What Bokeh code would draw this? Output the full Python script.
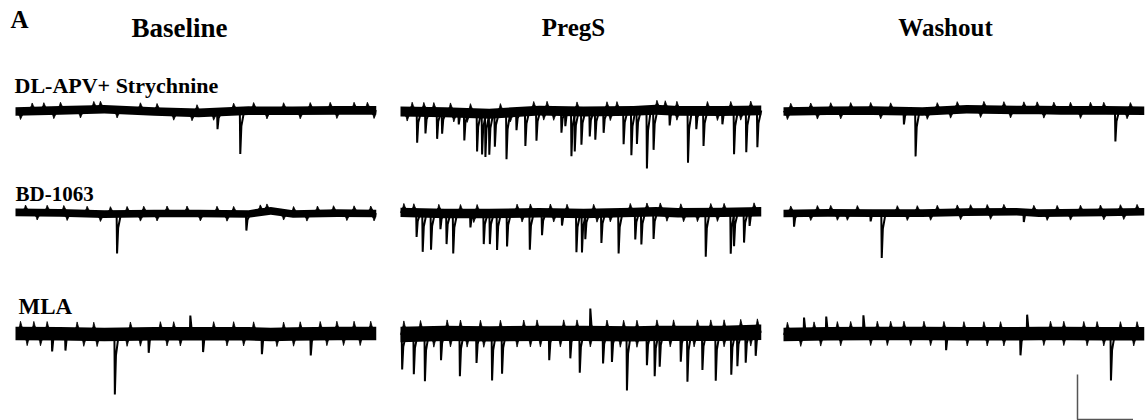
import numpy as np
from bokeh.plotting import figure
from bokeh.models import Range1d
from bokeh.embed import file_html
from bokeh.resources import INLINE
from bokeh.core.properties import value

# ---------------- data ----------------
COLUMNS = ["Baseline", "PregS", "Washout"]
ROWS = ["DL-APV+ Strychnine", "BD-1063", "MLA"]
PANEL_LABEL = "A"

TRACE_S = 65.0          # duration of every sweep, s
SCALE_PA = 20           # scale bar, pA
SCALE_S = 10            # scale bar, s

# synaptic events: times (s) and amplitudes (pA, negative = inward / downward)
apv_base_t = [36.4, 40.5]
apv_base_a = [-7.6, -19.1]
apv_preg_t = [3.0, 4.5, 6.6, 7.5, 10.5, 11.5, 13.8, 14.7, 15.3, 16.0, 17.0, 19.1,
              20.9, 22.5, 24.5, 29.0, 29.7, 30.8, 31.4, 32.6, 34.1, 35.1, 36.6,
              40.2, 41.6, 42.6, 44.4, 45.6, 48.5, 51.8, 53.3, 54.6, 58.0, 60.1,
              62.3, 64.3]
apv_preg_a = [-13.8, -9.6, -11.9, -9.6, -5.2, -12.3, -17.0, -18.2, -19.3, -18.2,
              -14.8, -20.7, -8.1, -15.3, -13.3, -9.6, -6.7, -20.0, -17.8, -14.8,
              -11.1, -12.6, -9.6, -14.8, -19.7, -14.8, -25.9, -17.8, -6.7, -23.0,
              -8.1, -15.6, -5.9, -19.3, -18.5, -16.3]
apv_wash_t = [21.7, 23.8, 59.8]
apv_wash_a = [-5.9, -20.0, -13.8]

bd_base_t = [18.3, 41.6]
bd_base_a = [-17.5, -7.4]
bd_preg_t = [2.9, 4.0, 5.5, 7.2, 8.3, 9.5, 12.6, 15.0, 16.1, 17.4, 19.2, 23.3,
             25.5, 29.1, 31.7, 32.7, 33.3, 36.2, 39.3, 42.3, 43.4, 45.6, 55.0,
             59.5, 60.1, 61.9, 62.9]
bd_preg_a = [-10.7, -17.3, -16.3, -7.0, -13.6, -17.8, -6.2, -13.6, -13.6, -16.3,
             -14.8, -16.3, -9.9, -5.5, -17.3, -17.3, -11.4, -13.3, -18.1, -12.1,
             -14.4, -12.1, -19.6, -18.4, -15.1, -13.6, -6.2]
bd_wash_t = [1.9, 15.7, 17.7, 43.3]
bd_wash_a = [-5.9, -3.7, -20.0, -4.4]

mla_base_t = [6.6, 9.0, 17.9, 24.0, 31.5, 33.8, 44.4, 53.2]
mla_base_a = [-7.9, -7.4, -26.7, -8.4, 8.1, -8.1, -8.9, -9.6]
mla_preg_t = [0.3, 2.4, 4.4, 7.3, 10.7, 13.7, 16.5, 18.3, 26.8, 30.6, 32.3, 34.2,
              36.5, 38.1, 40.8, 44.4, 45.8, 46.7, 50.5, 51.7, 54.4, 56.8, 59.6,
              60.7, 62.2, 64.0]
mla_preg_a = [-15.6, -17.8, -21.0, -11.9, -19.0, -13.0, -20.7, -17.8, -11.9,
              -11.1, -17.5, 11.1, -13.3, -12.6, -25.2, -14.1, -19.0, -14.8,
              -12.6, -21.5, -16.3, -21.0, -18.5, -14.8, -13.3, -10.4]
mla_wash_t = [3.7, 7.7, 14.4, 29.3, 42.7, 43.9, 59.0]
mla_wash_a = [7.4, 7.7, 8.1, -7.4, -9.6, 8.4, -20.7]

# noise peaks poking out of the baseline band: times (s) of upward / downward peaks
apv_base_up = [3.0, 5.1, 8.1, 14.1, 15.3, 22.5, 25.5, 32.7, 39.3, 42.9, 48.3, 53.1, 56.7, 61.0, 63.4]
apv_base_dn = [0.9, 6.9, 11.7, 18.3, 28.5, 31.8, 35.7, 45.3, 51.3, 57.9, 64.6]
apv_preg_up = [2.1, 4.2, 6.0, 9.0, 12.6, 18.0, 24.0, 26.4, 31.8, 37.2, 39.0, 46.2, 47.7, 49.8, 55.3, 59.5, 63.1]
apv_preg_dn = [1.2, 9.6, 12.0, 19.8, 25.8, 27.6, 37.8, 49.8, 57.1, 61.3]
apv_wash_up = [1.3, 4.9, 8.5, 12.1, 15.7, 19.3, 27.7, 31.3, 36.1, 39.7, 43.3, 45.7, 48.7, 51.7, 55.3, 57.7, 62.5]
apv_wash_dn = [0.7, 6.1, 10.3, 17.5, 25.9, 30.1, 35.5, 40.9, 46.9, 53.5, 61.9]
bd_base_up = [1.8, 5.7, 8.7, 12.9, 17.1, 20.1, 23.1, 27.3, 30.9, 36.3, 39.3, 44.1, 45.3, 50.1, 54.4, 57.3, 61.0, 64.0]
bd_base_dn = [3.9, 9.3, 15.3, 22.5, 25.5, 33.3, 38.1, 48.3, 52.5, 59.7, 64.6]
bd_preg_up = [0.6, 2.4, 6.9, 10.8, 13.8, 21.0, 23.4, 27.0, 30.0, 34.8, 41.4, 44.4, 46.8, 50.5, 55.9, 58.3, 63.7]
bd_preg_dn = [13.2, 21.9, 27.6, 35.4, 37.8, 48.0, 51.0, 53.5, 57.1]
bd_wash_up = [1.3, 6.1, 8.5, 13.3, 20.5, 24.1, 27.7, 31.3, 33.7, 36.7, 39.7, 45.1, 49.3, 53.5, 57.1, 60.7, 63.7]
bd_wash_dn = [4.9, 9.7, 11.5, 22.3, 26.5, 31.9, 37.3, 47.5, 51.7, 57.7, 61.3]
mla_base_up = [0.9, 3.3, 5.7, 11.1, 14.1, 20.7, 26.1, 28.5, 35.7, 39.3, 42.9, 48.3, 51.3, 54.9, 57.9, 61.0, 64.0]
mla_base_dn = [2.1, 4.5, 12.3, 14.7, 20.1, 22.5, 27.3, 29.7, 38.1, 41.1, 47.1, 50.1, 56.1, 59.1, 62.1]
mla_preg_up = [0.6, 3.6, 8.4, 10.8, 14.4, 18.0, 22.2, 24.6, 29.4, 31.8, 37.2, 40.2, 42.6, 46.2, 49.2, 53.5, 55.9, 58.3, 61.3, 64.3]
mla_preg_dn = [6.0, 9.0, 12.0, 15.0, 21.0, 23.4, 25.2, 28.8, 34.2, 39.6, 42.6, 48.6, 52.9, 58.3, 63.1]
mla_wash_up = [0.7, 5.5, 9.7, 12.1, 16.9, 19.3, 21.7, 25.3, 28.9, 32.5, 36.1, 39.1, 48.1, 50.5, 54.1, 56.5, 60.7, 63.7]
mla_wash_dn = [3.1, 6.7, 10.3, 15.7, 18.7, 22.9, 26.5, 33.1, 36.7, 39.7, 46.9, 50.5, 54.7, 57.7, 63.1]

# slow baseline drift: times (s) and offsets (pA)
drift_t = [0, 8, 16, 25, 33, 42, 46, 50, 58, 65]
apv_base_d = [0.0, 0.5, 1.0, 0.0, -0.6, 0.4, 0.3, 0.3, 0.5, 0.5]
apv_preg_d = [0.0, -0.3, -1.0, 0.4, 0.0, 0.3, 0.8, 0.3, 0.2, 0.5]
apv_wash_d = [0.0, 0.3, 0.4, 0.0, 1.0, 0.7, 0.7, 0.5, 0.5, 0.3]
bd_base_d = [0.5, 0.3, -0.3, 0.0, 0.0, -0.2, 1.2, -0.2, 0.2, 0.0]
bd_preg_d = [0.5, 0.0, 0.0, 0.3, 0.0, 0.5, 0.8, 0.3, 0.5, 0.8]
bd_wash_d = [0.0, 0.3, 0.2, 0.2, 0.6, 0.8, 0.2, 0.3, 0.5, 0.8]
mla_base_d = [0.5, 0.3, 0.0, 0.3, 0.3, 0.3, 0.0, 0.2, 0.5, 0.5]
mla_preg_d = [0.0, 0.5, 0.3, 0.5, 0.5, 0.3, 0.5, 0.5, 0.5, 1.0]
mla_wash_d = [0.0, 0.3, 0.5, 0.5, 0.3, 0.3, 0.5, 0.5, 0.3, 0.3]

# noise: half-width of the solid band and height of the noise peaks (pA)
apv_noise = [1.9, 2.2, 1.9]
bd_noise = [1.7, 2.1, 1.7]
mla_noise = [3.0, 3.4, 3.0]
apv_peak = [3.6, 4.2, 3.6]
bd_peak = [3.3, 4.0, 3.3]
mla_peak = [5.4, 6.0, 5.4]

# ---------------- layout / style ----------------
W, H = 1146, 420
PX_PER_S = 5.55
PX_PER_PA = 2.25
COL_X0 = [15, 400, 783]
ROW_Y0 = [111, 213, 334]
COL_TITLE_X = [179, 573, 945]
COL_TITLE_Y = 27
COL_TITLE_SIZE = ["27px", "25px", "25px"]
ROW_LABEL_X = [14, 15, 18]
ROW_LABEL_Y = [85, 193, 306]
ROW_LABEL_SIZE = ["22px", "21px", "23px"]
SCALE_CORNER = (1077, 419)
PEAK_HALF_S = 0.7
FONT = value("Liberation Serif")

traces = [
    [(apv_base_t, apv_base_a, apv_base_d, apv_base_up, apv_base_dn),
     (apv_preg_t, apv_preg_a, apv_preg_d, apv_preg_up, apv_preg_dn),
     (apv_wash_t, apv_wash_a, apv_wash_d, apv_wash_up, apv_wash_dn)],
    [(bd_base_t, bd_base_a, bd_base_d, bd_base_up, bd_base_dn),
     (bd_preg_t, bd_preg_a, bd_preg_d, bd_preg_up, bd_preg_dn),
     (bd_wash_t, bd_wash_a, bd_wash_d, bd_wash_up, bd_wash_dn)],
    [(mla_base_t, mla_base_a, mla_base_d, mla_base_up, mla_base_dn),
     (mla_preg_t, mla_preg_a, mla_preg_d, mla_preg_up, mla_preg_dn),
     (mla_wash_t, mla_wash_a, mla_wash_d, mla_wash_up, mla_wash_dn)],
]
noise = [apv_noise, bd_noise, mla_noise]
peaks = [apv_peak, bd_peak, mla_peak]

p = figure(width=W, height=H, x_range=Range1d(0, W), y_range=Range1d(H, 0),
           output_backend="svg", toolbar_location=None, min_border=0)
p.axis.visible = False
p.grid.visible = False
p.outline_line_color = None
p.background_fill_color = "white"
p.border_fill_color = "white"

for r in range(3):
    for c in range(3):
        et, ea, dd, up, dn = traces[r][c]
        x0, y0 = COL_X0[c], ROW_Y0[r]
        hw = noise[r][c]
        pk = peaks[r][c]
        dt = np.array(drift_t, dtype=float)
        dv = np.array(dd, dtype=float)
        bx = x0 + dt * PX_PER_S
        p.varea(x=bx, y1=y0 - (dv + hw) * PX_PER_PA, y2=y0 - (dv - hw) * PX_PER_PA,
                fill_color="black")
        # noise peaks (irregular band edges)
        nxs, nys = [], []
        for times, sign in ((up, 1.0), (dn, -1.0)):
            for t in times:
                base = float(np.interp(t, dt, dv))
                tt = np.clip(np.array([t - PEAK_HALF_S, t - 0.15, t, t + 0.2, t + PEAK_HALF_S]),
                             0, TRACE_S)
                aa = np.array([0.0, sign * (hw + 0.4), sign * pk, sign * (hw + 0.6), 0.0]) + base
                nxs.append(list(x0 + tt * PX_PER_S))
                nys.append(list(y0 - aa * PX_PER_PA))
        p.patches(xs=nxs, ys=nys, fill_color="black", line_color="black", line_width=0.8)
        # synaptic events
        xs, ys = [], []
        for t, a in zip(et, ea):
            base = float(np.interp(t, dt, dv))
            tt = np.clip(np.array([t - 0.08, t, t + 0.2, t + 0.7]), 0, TRACE_S)
            aa = np.array([0.0, a, 0.35 * a, 0.0]) + base
            xs.append(list(x0 + tt * PX_PER_S))
            ys.append(list(y0 - aa * PX_PER_PA))
        p.multi_line(xs=xs, ys=ys, line_color="black", line_width=2.0)

# column titles
for c in range(3):
    p.text(x=[COL_TITLE_X[c]], y=[COL_TITLE_Y], text=[COLUMNS[c]], text_font=FONT,
           text_font_style="bold", text_font_size=COL_TITLE_SIZE[c],
           text_align="center", text_baseline="alphabetic", text_color="black")
# panel letter
p.text(x=[10], y=[19], text=[PANEL_LABEL], text_font=FONT, text_font_style="bold",
       text_font_size="25px", text_align="left", text_baseline="alphabetic",
       text_color="black")
# row labels
for r in range(3):
    p.text(x=[ROW_LABEL_X[r]], y=[ROW_LABEL_Y[r]], text=[ROWS[r]], text_font=FONT,
           text_font_style="bold", text_font_size=ROW_LABEL_SIZE[r],
           text_align="left", text_baseline="alphabetic", text_color="black")

# scale bar
cx, cy = SCALE_CORNER
p.line(x=[cx, cx, cx + SCALE_S * PX_PER_S], y=[cy - SCALE_PA * PX_PER_PA, cy, cy],
       line_color="#555555", line_width=1.5)

open("out.html", "w").write(file_html(p, INLINE))
